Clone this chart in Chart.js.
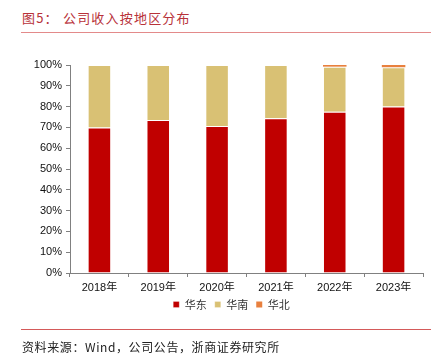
<!DOCTYPE html>
<html><head><meta charset="utf-8">
<script src="https://cdn.jsdelivr.net/npm/chart.js@4"></script>
<style>
html,body{margin:0;padding:0;background:#fff;}
#wrap{position:relative;width:433px;height:364px;overflow:hidden;}
#title{position:absolute;left:22px;top:8px;font-family:"Noto Sans CJK SC",sans-serif;font-size:13px;color:#B8323A;letter-spacing:1.2px;white-space:pre;}
#tline{position:absolute;left:21px;top:32px;width:410px;height:1px;background:#E38A8A;}
#fline{position:absolute;left:21px;top:329px;width:410px;height:1px;background:#D45A5A;}
#source{position:absolute;left:22px;top:338px;font-family:"Noto Sans CJK SC",sans-serif;font-size:12px;color:#222;letter-spacing:0.6px;white-space:pre;}
canvas{position:absolute;left:0;top:0;}
</style></head>
<body><div id="wrap">
<div id="title">图5： 公司收入按地区分布</div>
<div id="tline"></div>
<canvas id="c" width="433" height="364"></canvas>
<div id="fline"></div>
<div id="source">资料来源：Wind，公司公告，浙商证券研究所</div>
</div>
<script>
const categories = ["2018年","2019年","2020年","2021年","2022年","2023年"];
const huadong = [70.0, 73.5, 70.7, 74.4, 77.5, 80.0];
const huanan  = [30.0, 26.5, 29.3, 25.6, 21.7, 18.9];
const huabei  = [0, 0, 0, 0, 0.8, 1.1];
const seriesNames = ["华东","华南","华北"];
const yTicks = [0,10,20,30,40,50,60,70,80,90,100];

const fontFam = "'Liberation Sans', Arial, 'Noto Sans CJK SC', sans-serif";
const shiftLegend = {
  id: 'shiftLegend',
  afterLayout(chart) {
    const lg = chart.legend;
    if (lg) { lg.left += 20; lg.right += 20; }
  }
};
new Chart(document.getElementById('c'), {
  type: 'bar',
  data: {
    labels: categories,
    datasets: [
      {label: seriesNames[0], data: huadong, backgroundColor: '#C00000', borderColor:'rgba(255,255,255,0.35)', borderWidth:{left:1,right:1,top:1,bottom:0}, borderSkipped:false},
      {label: seriesNames[1], data: huanan, backgroundColor: '#D9C174', borderColor:'rgba(255,255,255,0.35)', borderWidth:{left:1,right:1,top:1,bottom:0}, borderSkipped:false},
      {label: seriesNames[2], data: huabei, backgroundColor: '#E8803E', borderWidth:0}
    ]
  },
  plugins: [shiftLegend],
  options: {
    responsive: false,
    animation: false,
    devicePixelRatio: 1,
    datasets: {bar: {barPercentage: 0.4, categoryPercentage: 1.0}},
    layout: {padding: {left: 0, right: 10, top: 65, bottom: 44}},
    plugins: {
      legend: {
        position: 'bottom',
        labels: {
          boxWidth: 6, boxHeight: 6, padding: 8,
          color: '#333',
          font: {family: "'Noto Sans CJK SC', sans-serif", size: 11}
        }
      },
      tooltip: {enabled: false}
    },
    scales: {
      x: {
        stacked: true,
        grid: {display: true, drawOnChartArea: false, drawTicks: true, tickLength: 4, color: '#808080', offset: true},
        border: {color: '#808080', width: 1},
        ticks: {color: '#111', padding: 4, font: {family: fontFam, size: 11}, maxRotation: 0},
        afterFit: s => { s.height = 18; }
      },
      y: {
        stacked: true,
        min: 0, max: 100,
        afterBuildTicks: s => { s.ticks = yTicks.map(v => ({value: v})); },
        grid: {display: true, drawOnChartArea: false, drawTicks: true, tickLength: 4, color: '#808080'},
        border: {color: '#808080', width: 1},
        ticks: {color: '#111', padding: 4, font: {family: fontFam, size: 11}, callback: v => v + '%'},
        afterFit: s => { s.width = 70; }
      }
    }
  }
});
</script>
</body></html>
